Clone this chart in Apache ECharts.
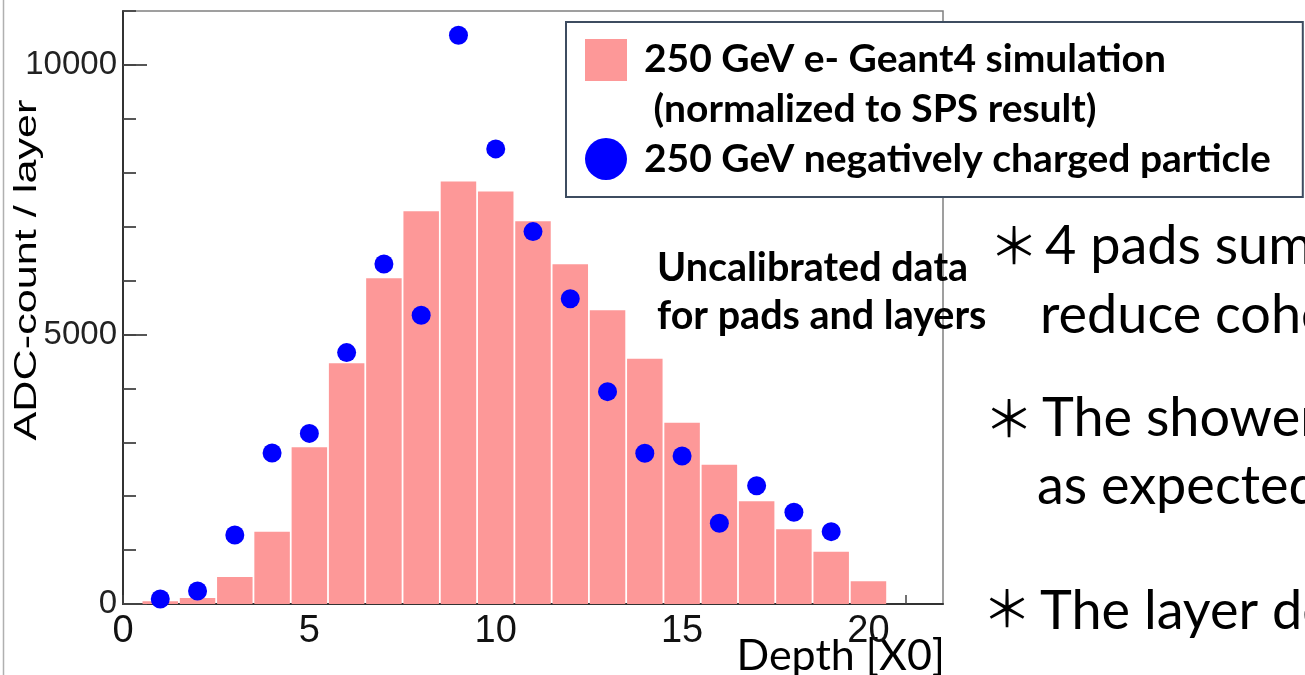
<!DOCTYPE html>
<html>
<head>
<meta charset="utf-8">
<script src="https://cdn.jsdelivr.net/npm/echarts@6/dist/echarts.min.js"></script>
<style>
html,body{margin:0;padding:0;background:#fff;}
#chart{width:1305px;height:675px;}
</style>
</head>
<body>
<div id="chart"></div>
<script>
// ---- data ----
const simDepth = [1, 2, 3, 4, 5, 6, 7, 8, 9, 10, 11, 12, 13, 14, 15, 16, 17, 18, 19, 20];
const simValues = [50, 110, 500, 1340, 2907, 4466, 6042, 7285, 7835, 7650, 7100, 6302, 5449, 4550, 3364, 2585, 1905, 1386, 970, 421];
const dataDepth = [1, 2, 3, 4, 5, 6, 7, 8, 9, 10, 11, 12, 13, 14, 15, 16, 17, 18, 19];
const dataValues = [93, 241, 1280, 2800, 3165, 4663, 6308, 5356, 10550, 8442, 6908, 5664, 3939, 2795, 2746, 1497, 2195, 1701, 1342];
const xTickLabels = [0, 5, 10, 15, 20];
const yTickLabels = [0, 5000, 10000];
const simName = '250 GeV e- Geant4 simulation\n (normalized to SPS result)';
const dataName = '250 GeV negatively charged particle';
const xTitle = 'Depth [X0]';
const yTitle = 'ADC-count / layer';
const noteLines = ['Uncalibrated data', 'for pads and layers'];
const slideLines = ['4 pads summed', 'reduce coherent', 'The shower', 'as expected', 'The layer depth'];

const chart = echarts.init(document.getElementById('chart'), null, {renderer: 'canvas'});

const gridRect = {left: 123, top: 11, right: 362, bottom: 71};
const axisFont = "'Liberation Sans', Arial, sans-serif";
const slideFont = "Lato, 'Open Sans', sans-serif";
const starFont = "'Noto Sans CJK JP', 'Noto Sans CJK SC', sans-serif";

const option = {
  backgroundColor: '#ffffff',
  animation: false,
  grid: [
    Object.assign({show: true, borderColor: '#808080', borderWidth: 1.5, backgroundColor: 'transparent'}, gridRect),
    Object.assign({show: false}, gridRect)
  ],
  xAxis: [
    {
      gridIndex: 0, type: 'value', min: 0, max: 22, interval: 1,
      axisLine: {show: true, lineStyle: {color: '#333', width: 2}},
      axisTick: {show: true, inside: true, length: 9, lineStyle: {color: '#444', width: 1.5}},
      axisLabel: {
        show: true, margin: 9, fontFamily: axisFont, fontSize: 38, color: '#111',
        showMaxLabel: false,
        formatter: v => xTickLabels.indexOf(v) >= 0 ? String(v) : ''
      },
      splitLine: {show: false}
    },
    {gridIndex: 1, type: 'value', min: 0, max: 22, show: false}
  ],
  yAxis: [
    {
      gridIndex: 0, type: 'value', min: 0, max: 11000, interval: 1000,
      axisLine: {show: true, lineStyle: {color: '#333', width: 2}},
      axisTick: {show: true, inside: true, length: 13, lineStyle: {color: '#444', width: 1.8}},
      axisLabel: {show: false},
      splitLine: {show: false}
    },
    {
      gridIndex: 1, type: 'value', min: 0, max: 11000, interval: 5000,
      axisLine: {show: false},
      axisTick: {show: true, inside: true, length: 24, lineStyle: {color: '#444', width: 1.8}},
      axisLabel: {
        show: true, margin: 6, fontFamily: axisFont, fontSize: 33, color: '#222',
        showMaxLabel: false,
        formatter: v => yTickLabels.indexOf(v) >= 0 ? String(v) : ''
      },
      splitLine: {show: false}
    }
  ],
  legend: {
    orient: 'vertical', left: 566, top: 22,
    padding: [12, 32, 13, 19],
    itemGap: 0, itemWidth: 42, itemHeight: 100,
    selectedMode: false,
    backgroundColor: '#ffffff', borderColor: '#3d4c60', borderWidth: 2,
    textStyle: {fontFamily: slideFont, fontWeight: 'bold', fontSize: 39, color: '#000', lineHeight: 50, padding: [0, 0, 0, 12]},
    data: [
      {name: simName, icon: 'path://M0,0L0,0M0,5H42V47H0ZM42,100L42,100'},
      {name: dataName, icon: 'circle'}
    ]
  },
  series: [
    {
      name: simName, type: 'bar', xAxisIndex: 0, yAxisIndex: 0,
      barWidth: 35.5,
      itemStyle: {color: '#fd9898', opacity: 1},
      data: simDepth.map((d, i) => [d, simValues[i]]),
      z: 2
    },
    {
      name: dataName, type: 'scatter', xAxisIndex: 0, yAxisIndex: 0,
      symbol: 'circle', symbolSize: 19,
      itemStyle: {color: '#0000ff', opacity: 1},
      data: dataDepth.map((d, i) => [d, dataValues[i]]),
      z: 3
    }
  ],
  graphic: [
    {type: 'line', shape: {x1: 3.5, y1: 0, x2: 3.5, y2: 675}, style: {stroke: '#b0b0b0', lineWidth: 1.5}, silent: true},
    {type: 'text', x: 27, y: 270, rotation: Math.PI / 2, scaleX: 1.35,
     style: {text: yTitle, fontFamily: axisFont, fontSize: 32, fill: '#000', align: 'center', verticalAlign: 'middle'}},
    {type: 'text', x: 945, y: 656, style: {text: xTitle, fontFamily: slideFont, fontSize: 43, fill: '#000', align: 'right', verticalAlign: 'middle'}},
    {type: 'text', x: 657, y: 268, style: {text: noteLines[0], fontFamily: slideFont, fontWeight: 'bold', fontSize: 39.5, fill: '#000', align: 'left', verticalAlign: 'middle'}},
    {type: 'text', x: 657, y: 316, style: {text: noteLines[1], fontFamily: slideFont, fontWeight: 'bold', fontSize: 39.5, fill: '#000', align: 'left', verticalAlign: 'middle'}},
    {type: 'text', x: 1014, y: 245, style: {text: '\uFF0A', fontFamily: starFont, fontSize: 50, fill: '#000', align: 'center', verticalAlign: 'middle'}},
    {type: 'text', x: 1045, y: 247, style: {text: slideLines[0], fontFamily: slideFont, fontSize: 54, fill: '#000', align: 'left', verticalAlign: 'middle'}},
    {type: 'text', x: 1040, y: 316, style: {text: slideLines[1], fontFamily: slideFont, fontSize: 54, fill: '#000', align: 'left', verticalAlign: 'middle'}},
    {type: 'text', x: 1009, y: 418, style: {text: '\uFF0A', fontFamily: starFont, fontSize: 50, fill: '#000', align: 'center', verticalAlign: 'middle'}},
    {type: 'text', x: 1042, y: 419, style: {text: slideLines[2], fontFamily: slideFont, fontSize: 54, fill: '#000', align: 'left', verticalAlign: 'middle'}},
    {type: 'text', x: 1037, y: 487, style: {text: slideLines[3], fontFamily: slideFont, fontSize: 54, fill: '#000', align: 'left', verticalAlign: 'middle'}},
    {type: 'text', x: 1007, y: 608, style: {text: '\uFF0A', fontFamily: starFont, fontSize: 50, fill: '#000', align: 'center', verticalAlign: 'middle'}},
    {type: 'text', x: 1040, y: 612, style: {text: slideLines[4], fontFamily: slideFont, fontSize: 54, fill: '#000', align: 'left', verticalAlign: 'middle'}}
  ]
};
chart.setOption(option);
</script>
</body>
</html>
